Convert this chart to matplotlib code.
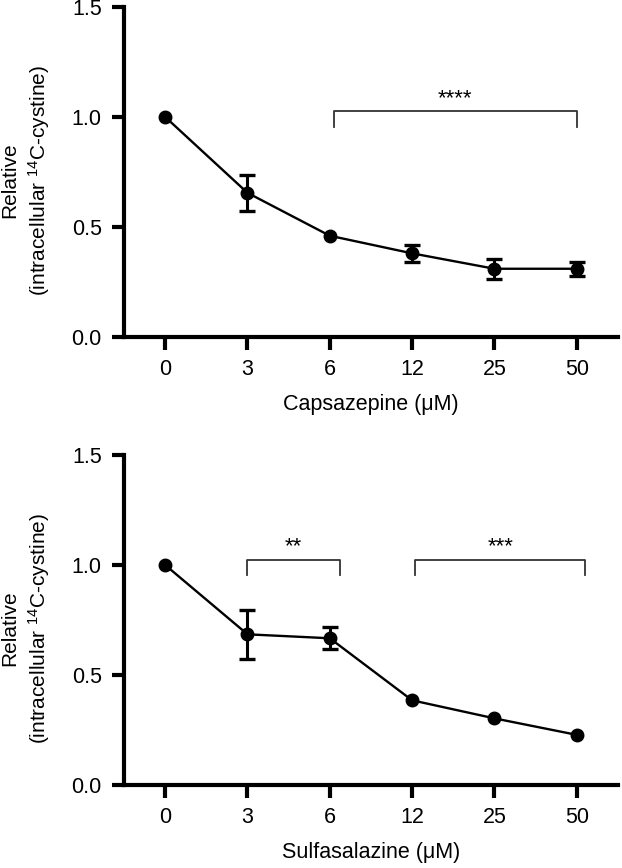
import matplotlib.pyplot as plt
import numpy as np

plt.rcParams['font.family'] = ['Liberation Sans', 'DejaVu Sans']
plt.rcParams['mathtext.fontset'] = 'custom'
plt.rcParams['mathtext.rm'] = 'Liberation Sans'
plt.rcParams['mathtext.it'] = 'Liberation Sans:italic'

# Data
doses = ['0', '3', '6', '12', '25', '50']
capsazepine_mean = [1.0, 0.655, 0.46, 0.38, 0.31, 0.31]
capsazepine_err = [0.0, 0.083, 0.0, 0.04, 0.045, 0.032]
sulfasalazine_mean = [1.0, 0.685, 0.667, 0.385, 0.303, 0.228]
sulfasalazine_err = [0.0, 0.11, 0.05, 0.0, 0.0, 0.0]

# Significance brackets: (start, end, label) in category index units
capsazepine_sig = [(2.05, 5.0, '****')]
sulfasalazine_sig = [(1.0, 2.12, '**'), (3.04, 5.1, '***')]

ylabel = 'Relative\n(intracellular $^{14}$C-cystine)'

fig = plt.figure(figsize=(6.22, 8.68), dpi=100)
ax1 = fig.add_axes([0.1994, 0.6118, 0.794, 0.3802])
ax2 = fig.add_axes([0.1994, 0.0956, 0.794, 0.3802])


def draw_panel(ax, means, errs, sig, xlabel):
    x = np.arange(len(doses))
    ax.plot(x, means, color='black', linewidth=1.7, marker='o',
            markersize=9, zorder=3, clip_on=False)
    # error bars only where there is a visible SEM
    idx = [i for i, e in enumerate(errs) if e > 0]
    ax.errorbar(x[idx], [means[i] for i in idx], yerr=[errs[i] for i in idx],
                fmt='none', ecolor='black', elinewidth=2.2, capsize=5.5,
                capthick=2.4, zorder=3)
    ax.set_xlim(-0.5, 5.5)
    ax.set_ylim(0, 1.5)
    ax.set_yticks([0.0, 0.5, 1.0, 1.5])
    ax.set_yticklabels(['0.0', '0.5', '1.0', '1.5'])
    ax.set_xticks(x)
    ax.set_xticklabels(doses)
    for s in ['top', 'right']:
        ax.spines[s].set_visible(False)
    for s in ['left', 'bottom']:
        ax.spines[s].set_linewidth(3)
    ax.tick_params(axis='both', width=3, length=9, labelsize=15.5, pad=7)
    ax.set_xlabel(xlabel, fontsize=15.5, labelpad=10)
    ax.set_ylabel(ylabel, fontsize=15, linespacing=1.35)
    ax.yaxis.set_label_coords(-0.145, 0.475)

    for x0, x1, label in sig:
        top = 1.025
        drop = 0.072
        ax.plot([x0, x0, x1, x1], [top - drop, top, top, top - drop],
                color='#333333', linewidth=1.3)
        ax.text((x0 + x1) / 2, top + 0.01, label, ha='center', va='bottom',
                fontsize=16)


draw_panel(ax1, capsazepine_mean, capsazepine_err, capsazepine_sig,
           'Capsazepine (μM)')
draw_panel(ax2, sulfasalazine_mean, sulfasalazine_err, sulfasalazine_sig,
           'Sulfasalazine (μM)')

fig.savefig('out.png', dpi=100)
